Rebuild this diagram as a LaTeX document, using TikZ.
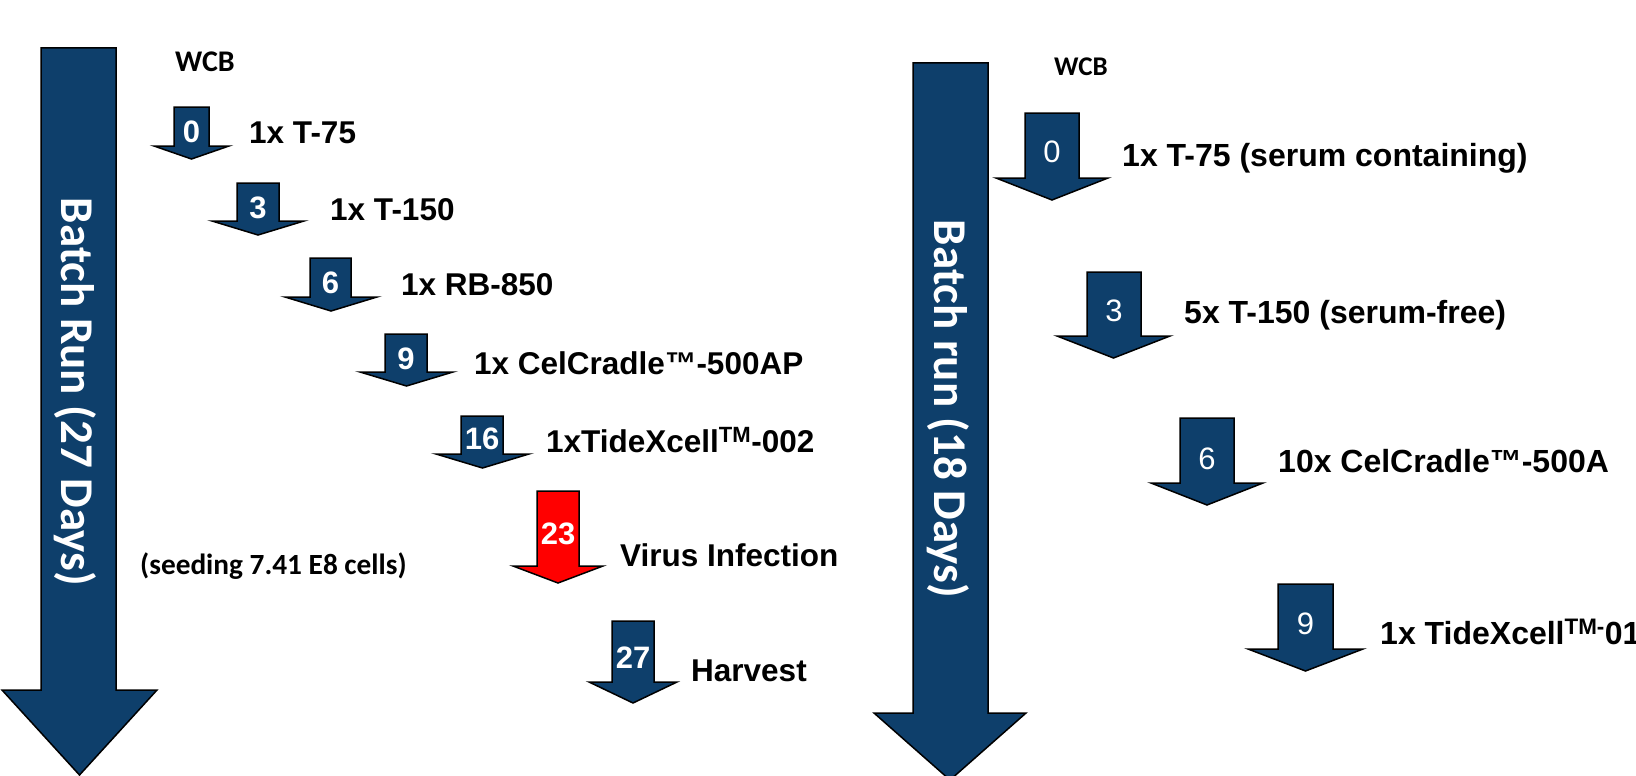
\documentclass[tikz,border=0pt]{standalone}
\usepackage{fontspec}
\setmainfont{Liberation Sans}
\newfontfamily\calfont{Carlito}
\newcommand\myfs[1]{\fontsize{#1}{#1}\selectfont}
\definecolor{arrblue}{RGB}{14,63,107}
\definecolor{arrred}{RGB}{255,0,0}
% #1 style, #2 shaft left, #3 shaft right, #4 top, #5 head base, #6 head left, #7 head right, #8 tip
\newcommand\dnarrow[8]{%
  \draw[#1] (#2,#4) -- (#3,#4) -- (#3,#5) -- (#7,#5) -- ({(#6+#7)/2},#8) -- (#6,#5) -- (#2,#5) -- cycle;}
\tikzset{
  bluearr/.style={fill=arrblue, draw=black, line width=1.5pt, line join=miter},
  redarr/.style={fill=arrred, draw=black, line width=1.5pt, line join=miter},
  numb/.style={text=white, font=\bfseries\myfs{31}, inner sep=0pt, anchor=center},
  numr/.style={text=white, font=\myfs{31}, inner sep=0pt, anchor=center},
  lbl/.style={font=\bfseries\myfs{#1}, inner sep=0pt, anchor=base west},
  lbl/.default=31.5,
  cal/.style={font=\calfont\bfseries\myfs{#1}, inner sep=0pt, anchor=base west},
  bigtxt/.style={text=white, font=\calfont\bfseries\myfs{47}, inner sep=0pt, rotate=-90, anchor=center}
}
\begin{document}
\begin{tikzpicture}[x=1pt,y=-1pt]
\useasboundingbox (0,0) rectangle (1636,776);
\fill[white] (0,0) rectangle (1636,776);
\clip (0,0) rectangle (1636,776);

% ---------- left panel ----------
\dnarrow{bluearr}{41}{116}{48}{690}{2}{157}{775}
\node[bigtxt] (bigL) at (75,392) {Batch Run (27 Days)};

\node[cal=30] (wcbL) at (175,71) {WCB};

\dnarrow{bluearr}{174}{209}{107}{146}{154}{229}{159}
\node[numb] (n0) at (191.5,132) {0};
\node[lbl] (l0) at (249,143) {1x T-75};

\dnarrow{bluearr}{237}{279}{183}{221}{212}{304}{235}
\node[numb] (n3) at (258,207.5) {3};
\node[lbl] (l3) at (330,220) {1x T-150};

\dnarrow{bluearr}{310}{351}{258}{297}{285}{377}{311}
\node[numb] (n6) at (330.5,283) {6};
\node[lbl] (l6) at (401,295) {1x RB-850};

\dnarrow{bluearr}{385}{427}{334}{372}{360}{453}{386}
\node[numb] (n9) at (406,359) {9};
\node[lbl] (l9) at (474,374) {1x CelCradle™-500AP};

\dnarrow{bluearr}{461}{503}{416}{454}{436}{529}{468}
\node[numb] (n16) at (482,439) {16};
\node[lbl] (l16) at (546,452) {1xTideXcell\textsuperscript{TM}-002};

\dnarrow{redarr}{537}{579}{491}{566}{513}{603}{583}
\node[numb] (n23) at (558,534) {23};
\node[lbl] (l23) at (620,566) {Virus Infection};

\dnarrow{bluearr}{612}{654}{621}{682}{589}{677}{703}
\node[numb] (n27) at (633,657.5) {27};
\node[lbl] (l27) at (691,681) {Harvest};

\node[cal=29.3] (seed) at (140,574) {(seeding 7.41 E8 cells)};

% ---------- right panel ----------
\dnarrow{bluearr}{913}{988}{63}{713}{874}{1026}{780}
\node[bigtxt] (bigR) at (948,409) {Batch run (18 Days)};

\node[cal=27] (wcbR) at (1054,75) {WCB};

\dnarrow{bluearr}{1025}{1079}{113}{178}{996}{1108}{200}
\node[numr] (m0) at (1052,152) {0};
\node[lbl=32] (r0) at (1122,166) {1x T-75 (serum containing)};

\dnarrow{bluearr}{1087}{1141}{272}{336}{1057}{1170}{358}
\node[numr] (m3) at (1114,311) {3};
\node[lbl=32] (r3) at (1184,323) {5x T-150 (serum-free)};

\dnarrow{bluearr}{1180}{1234}{418}{483}{1151}{1263}{505}
\node[numr] (m6) at (1207,459) {6};
\node[lbl=32] (r6) at (1278,472) {10x CelCradle™-500A};

\dnarrow{bluearr}{1278}{1333}{584}{649}{1248}{1363}{671}
\node[numr] (m9) at (1305.5,624) {9};
\node[lbl=32] (r9) at (1380,644) {1x TideXcell\textsuperscript{TM-}01};
\end{tikzpicture}
\end{document}
